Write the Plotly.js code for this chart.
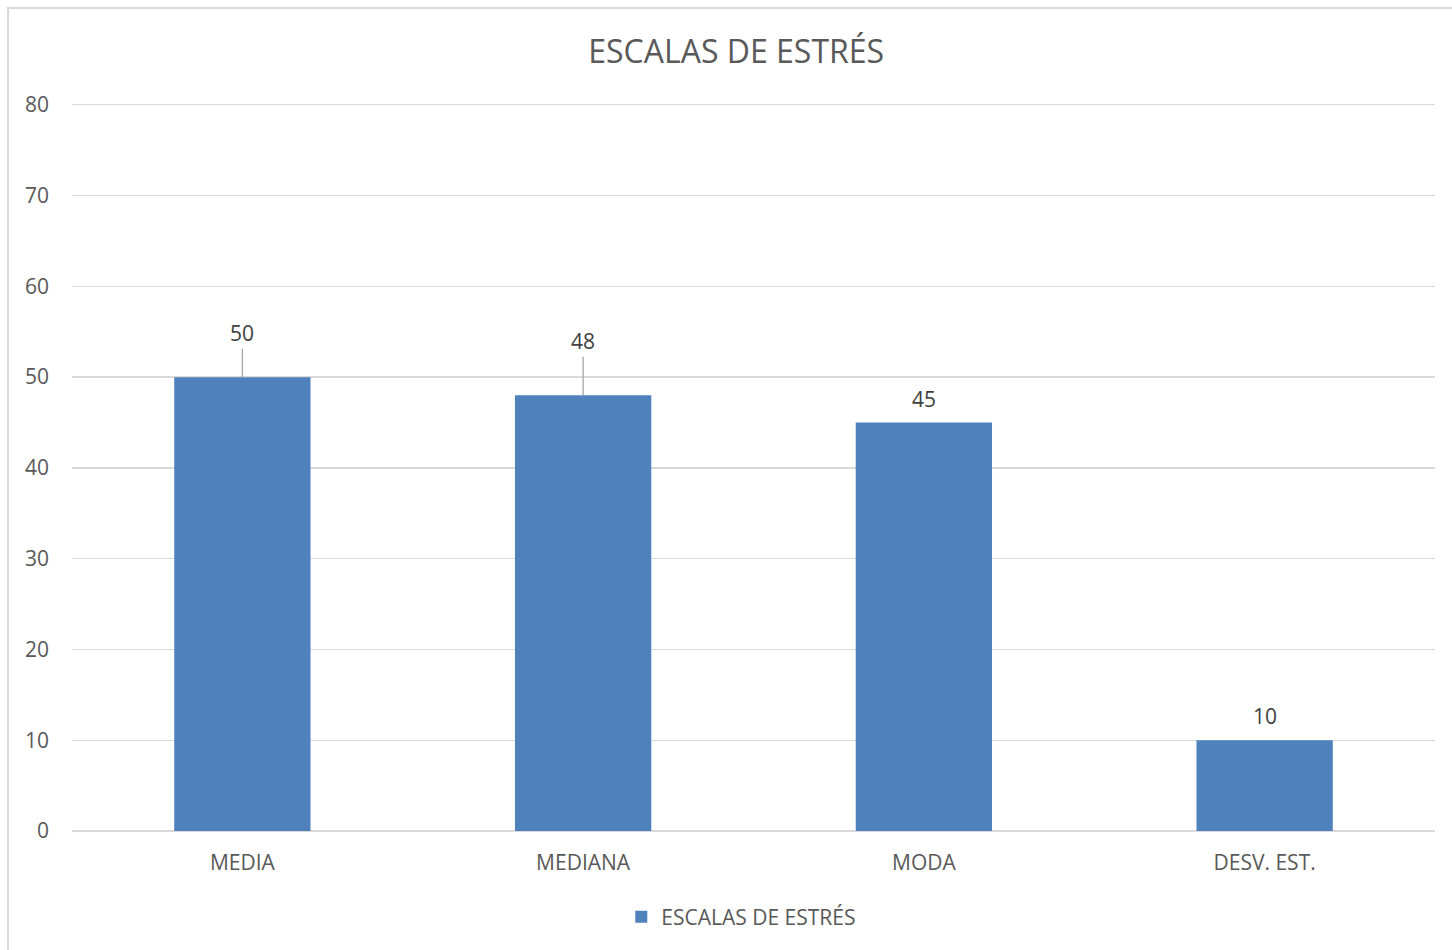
<!DOCTYPE html>
<html>
<head>
<meta charset="utf-8">
<script src="https://cdn.plot.ly/plotly-3.0.1.min.js"></script>
<style>
html,body{margin:0;padding:0;overflow:hidden;background:#fff;}
#chart{width:1452px;height:950px;}
#frame{position:absolute;left:7px;top:7px;width:1500px;height:1000px;border:2px solid #d9d9d9;pointer-events:none;}
</style>
</head>
<body>
<div id="chart"></div>
<div id="frame"></div>
<script>
const categories = ["MEDIA", "MEDIANA", "MODA", "DESV. EST."];
const values = [50, 48, 45, 10];
const seriesName = "ESCALAS DE ESTRÉS";
const chartTitle = "ESCALAS DE ESTRÉS";
// label offsets (px above bar top); null = no leader line
const leaderOffsets = [-44, -54, null, null];

const font = "'Open Sans', 'Liberation Sans', sans-serif";

const annotations = categories.map((c, i) => leaderOffsets[i] !== null ? {
  x: c, y: values[i], xref: 'x', yref: 'y',
  text: String(values[i]),
  showarrow: true, arrowhead: 0, arrowwidth: 1.3, arrowcolor: '#a6a6a6',
  ax: 0, ay: leaderOffsets[i], standoff: 0,
  font: {family: font, size: 21, color: '#404040'}
} : {
  x: c, y: values[i], xref: 'x', yref: 'y',
  text: String(values[i]),
  showarrow: false, yanchor: 'bottom', yshift: 8,
  font: {family: font, size: 21, color: '#404040'}
});

Plotly.newPlot('chart', [{
  type: 'bar',
  x: categories,
  y: values,
  name: seriesName,
  marker: {color: '#4f81bd'},
  showlegend: true
}], {
  width: 1452, height: 950,
  margin: {l: 72, r: 17, t: 103, b: 119},
  paper_bgcolor: '#ffffff',
  plot_bgcolor: '#ffffff',
  title: {text: chartTitle, x: 0.507, xref: 'container', xanchor: 'center', y: 0.946, yanchor: 'middle',
          font: {family: font, size: 32, color: '#595959'}},
  bargap: 0.6,
  xaxis: {
    showgrid: false, showline: false, zeroline: false,
    ticks: '', tickfont: {family: font, size: 21, color: '#595959'},
    ticklabelstandoff: 17
  },
  yaxis: {
    range: [0, 80.2], dtick: 10, tick0: 0,
    showgrid: true, gridcolor: '#d9d9d9', gridwidth: 1.3,
    zeroline: true, zerolinecolor: '#d9d9d9', zerolinewidth: 1.3,
    showline: false, ticks: '',
    tickfont: {family: font, size: 21, color: '#595959'},
    ticklabelstandoff: 22
  },
  legend: {orientation: 'h', x: 0.403, xanchor: 'left', y: -0.09, yanchor: 'top',
           font: {family: font, size: 21, color: '#595959'}},
  annotations: annotations
}, {displayModeBar: false, staticPlot: true});
</script>
</body>
</html>
